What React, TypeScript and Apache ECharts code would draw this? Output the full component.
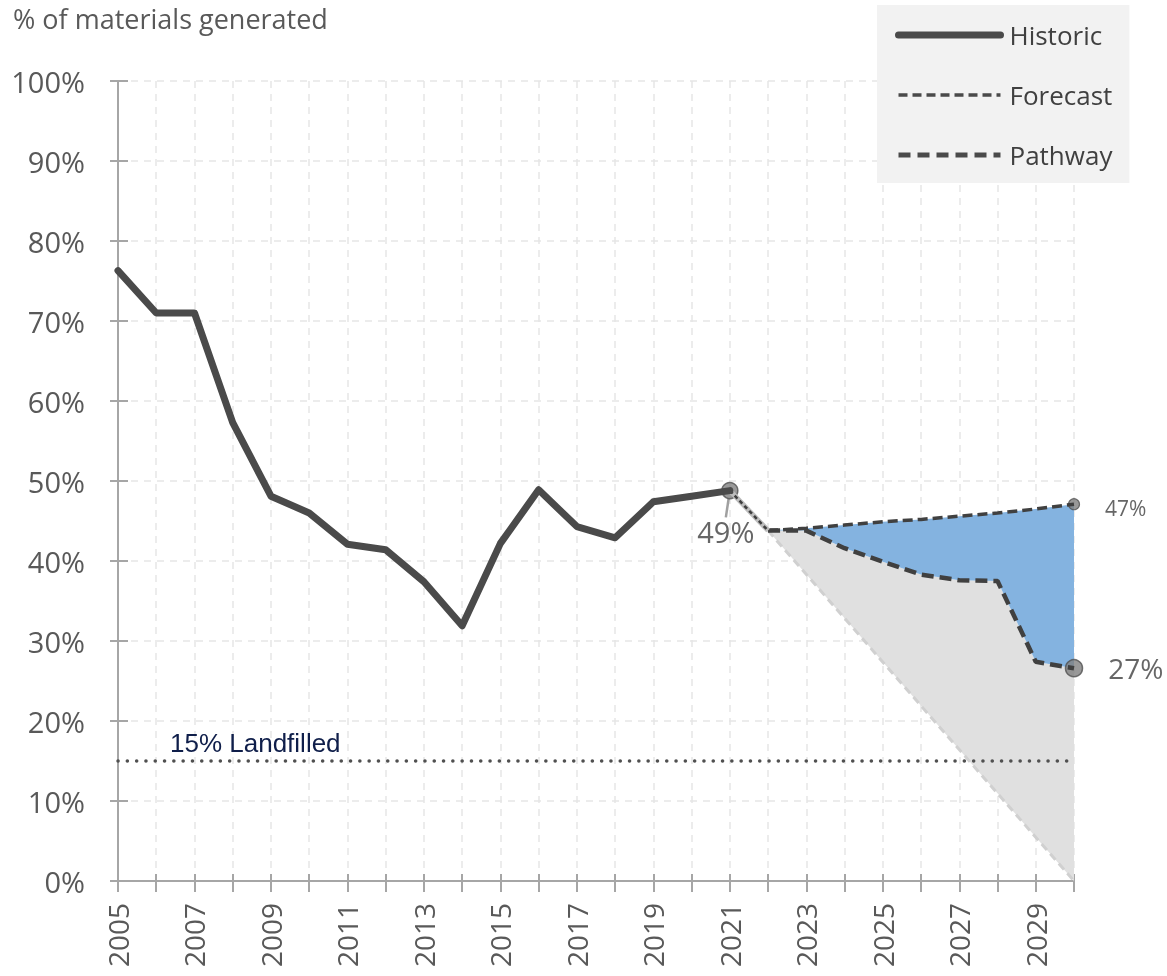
import React, { useEffect, useRef } from "react";
import * as echarts from "echarts";

// ---- data ----
const historicYears = [2005, 2006, 2007, 2008, 2009, 2010, 2011, 2012, 2013, 2014, 2015, 2016, 2017, 2018, 2019, 2020, 2021];
const historicValues = [76.3, 71.0, 71.0, 57.3, 48.1, 46.0, 42.1, 41.4, 37.4, 31.9, 42.2, 48.9, 44.3, 42.9, 47.4, 48.1, 48.8];
const forecastYears = [2022, 2023, 2024, 2025, 2026, 2027, 2028, 2029, 2030];
const forecastValues = [43.8, 44.1, 44.5, 44.9, 45.2, 45.6, 46.0, 46.5, 47.1];
const pathwayYears = [2022, 2023, 2024, 2025, 2026, 2027, 2028, 2029, 2030];
const pathwayValues = [43.8, 43.8, 41.6, 39.9, 38.3, 37.6, 37.5, 27.4, 26.6];
const floorYears = [2022, 2030];
const floorValues = [43.8, 0];
const landfillYears = [2005, 2030];
const landfillValues = [15, 15];
const legendNames = ["Historic", "Forecast", "Pathway"];
const landfillLabel = "15% Landfilled";
const axisTitle = "% of materials generated";

const FONT = "'Open Sans', sans-serif";
const AXIS = "#A6A6A6";
const GRID = "#E6E6E6";
const DARK = "#4A4A4A";

const zip = (xs: number[], ys: number[]) => xs.map((x, i) => [x, ys[i]]);

export default function App() {
  const ref = useRef<HTMLDivElement>(null);
  useEffect(() => {
    const chart = echarts.init(ref.current!, null, { renderer: "svg" });
    const historic = zip(historicYears, historicValues);
    const forecast = zip(forecastYears, forecastValues);
    const pathway = zip(pathwayYears, pathwayValues);
    const floor = zip(floorYears, floorValues);
    const lastH = historic[historic.length - 1];
    const connector = [lastH, forecast[0]];
    const blueArea = [...forecast, ...pathway.slice().reverse()];
    const grayArea = [...pathway, ...floor.slice().reverse()];

    const polygonSeries = (name: string, pts: number[][], color: string) => ({
      type: "custom",
      name,
      silent: true,
      data: [pts[0]],
      renderItem: (_params: any, api: any) => ({
        type: "polygon",
        shape: { points: pts.map((p) => api.coord(p)) },
        style: { fill: color },
      }),
    });

    const pctLabel = (p: any) => Math.round(p.value[1]) + "%";

    chart.setOption({
      animation: false,
      title: {
        text: axisTitle,
        left: 13,
        top: 5,
        padding: 0,
        textStyle: { fontSize: 27, fontWeight: "normal", color: "#595959", fontFamily: FONT, lineHeight: 27 },
      },
      legend: {
        orient: "vertical",
        left: 877,
        top: 5,
        padding: [15, 17, 13, 18],
        backgroundColor: "#F2F2F2",
        itemWidth: 102,
        itemHeight: 14,
        itemGap: 30,
        selectedMode: false,
        textStyle: { fontSize: 26, color: "#404040", fontFamily: FONT, lineHeight: 30, padding: [0, 0, 0, 4] },
        data: [
          { name: legendNames[0], itemStyle: { opacity: 0 }, lineStyle: { width: 7, type: "solid", cap: "round", color: DARK } },
          { name: legendNames[1], itemStyle: { opacity: 0 }, lineStyle: { width: 3.5, type: [9, 5], color: DARK } },
          { name: legendNames[2], itemStyle: { opacity: 0 }, lineStyle: { width: 5, type: [12, 7], color: DARK } },
        ],
      },
      grid: { left: 118, right: 93, top: 81, bottom: 95 },
      xAxis: [
        {
          type: "value",
          min: 2005,
          max: 2030,
          interval: 1,
          axisLine: { onZero: false, lineStyle: { color: AXIS, width: 2 } },
          axisTick: { show: true, length: 11, lineStyle: { color: AXIS, width: 2 } },
          axisLabel: {
            rotate: 90,
            margin: 22,
            fontSize: 28,
            color: "#595959",
            fontFamily: FONT,
            formatter: (v: number) => ((v - 2005) % 2 === 0 && v < 2030 ? String(v) : ""),
          },
          splitLine: { show: true, lineStyle: { color: GRID, width: 1.5, type: [7, 6] } },
        },
        {
          type: "value",
          min: 2005,
          max: 2030,
          interval: 1,
          position: "bottom",
          axisLine: { show: false },
          axisTick: { show: true, inside: true, length: 7, lineStyle: { color: AXIS, width: 2 } },
          axisLabel: { show: false },
          splitLine: { show: false },
        },
      ],
      yAxis: [
        {
          type: "value",
          min: 0,
          max: 100,
          interval: 10,
          axisLine: { show: true, onZero: false, lineStyle: { color: AXIS, width: 2 } },
          axisTick: { show: true, length: 8, lineStyle: { color: AXIS, width: 2 } },
          axisLabel: { formatter: "{value}%", fontSize: 29, color: "#595959", fontFamily: FONT, margin: 33 },
          splitLine: { show: true, lineStyle: { color: GRID, width: 1.5, type: [7, 6] } },
        },
        {
          type: "value",
          min: 0,
          max: 100,
          interval: 10,
          position: "left",
          axisLine: { show: false },
          axisTick: { show: true, inside: true, length: 10, lineStyle: { color: AXIS, width: 2 } },
          axisLabel: { show: false },
          splitLine: { show: false },
        },
      ],
      series: [
        polygonSeries("grayArea", grayArea, "#E0E0E0"),
        polygonSeries("blueArea", blueArea, "#84B3E0"),
        {
          type: "line",
          name: "floor",
          data: floor,
          symbol: "none",
          silent: true,
          lineStyle: { color: "#D0D0D0", width: 3, type: [8, 5] },
        },
        {
          type: "line",
          name: "landfill",
          data: landfillYears.map((x, i) =>
            i === 0
              ? {
                  value: [x, landfillValues[i]],
                  label: {
                    show: true,
                    formatter: landfillLabel,
                    position: [52, -31],
                    fontSize: 26,
                    color: "#0F1E4A",
                    fontFamily: "'Liberation Sans', Arial, sans-serif",
                  },
                }
              : [x, landfillValues[i]]
          ),
          symbol: "circle",
          symbolSize: 0,
          silent: true,
          lineStyle: { color: "#505050", width: 3.5, type: [0.1, 9.2], cap: "round" },
        },
        {
          type: "line",
          name: legendNames[1],
          data: forecast,
          symbol: "none",
          lineStyle: { color: "#404040", width: 3.5, type: [10, 5] },
        },
        {
          type: "line",
          name: legendNames[2],
          data: pathway,
          symbol: "none",
          lineStyle: { color: "#404040", width: 4.5, type: [12, 6] },
        },
        {
          type: "line",
          name: "connectorBase",
          data: connector,
          symbol: "none",
          lineStyle: { color: "#BDBDBD", width: 5 },
        },
        {
          type: "line",
          name: "connectorDash",
          data: connector,
          symbol: "none",
          lineStyle: { color: "#3F3F3F", width: 2.5, type: [4, 3] },
        },
        {
          type: "line",
          name: legendNames[0],
          data: historic,
          symbol: "none",
          lineStyle: { color: DARK, width: 7, cap: "round", join: "round" },
        },
        {
          type: "scatter",
          name: "histEnd",
          data: [lastH],
          symbolSize: 16,
          itemStyle: { color: "#7F7F7F", borderColor: "#505050", borderWidth: 1.5 },
          label: { show: true, position: "bottom", formatter: pctLabel, fontSize: 29, color: "#404040", fontFamily: FONT, distance: 4 },
          labelLayout: { dx: -4, dy: 14 },
          labelLine: { show: true, lineStyle: { color: "#A0A0A0", width: 2.5 } },
        },
        {
          type: "scatter",
          name: "forecastEnd",
          data: [forecast[forecast.length - 1]],
          symbolSize: 11,
          itemStyle: { color: "#7F7F7F", borderColor: "#505050", borderWidth: 1.2 },
          label: { show: true, position: "right", distance: 25, offset: [0, 4], formatter: pctLabel, fontSize: 21, color: "#404040", fontFamily: FONT },
        },
        {
          type: "scatter",
          name: "pathwayEnd",
          data: [pathway[pathway.length - 1]],
          symbolSize: 17,
          itemStyle: { color: "#7F7F7F", borderColor: "#505050", borderWidth: 1.5 },
          label: { show: true, position: "right", distance: 25, formatter: pctLabel, fontSize: 28, color: "#404040", fontFamily: FONT },
        },
      ],
    });
    return () => chart.dispose();
  }, []);
  return <div ref={ref} style={{ position: "fixed", left: 0, top: 0, width: 1167, height: 976 }} />;
}
